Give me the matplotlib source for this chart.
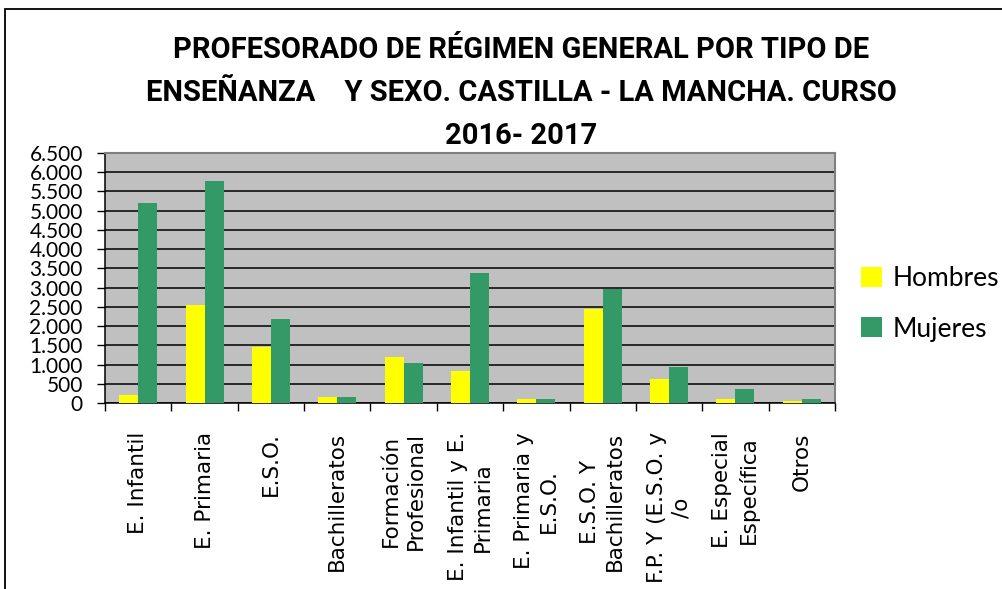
import matplotlib
matplotlib.use("Agg")
import matplotlib.pyplot as plt
import numpy as np
from matplotlib.patches import Rectangle

# data
categories = [
    "E. Infantil",
    "E. Primaria",
    "E.S.O.",
    "Bachilleratos",
    "Formación\nProfesional",
    "E. Infantil y E.\nPrimaria",
    "E. Primaria y\nE.S.O.",
    "E.S.O. Y\nBachilleratos",
    "F.P. Y (E.S.O. y\n/o",
    "E. Especial\nEspecífica",
    "Otros",
]
hombres = [217, 2557, 1465, 165, 1205, 841, 113, 2453, 633, 113, 61]
mujeres = [5209, 5781, 2193, 165, 1049, 3389, 113, 2973, 945, 373, 113]
series_names = ["Hombres", "Mujeres"]
y_ticks = [0, 500, 1000, 1500, 2000, 2500, 3000, 3500, 4000, 4500, 5000, 5500, 6000, 6500]
y_tick_labels = ["0", "500", "1.000", "1.500", "2.000", "2.500", "3.000",
                 "3.500", "4.000", "4.500", "5.000", "5.500", "6.000", "6.500"]
title = ("PROFESORADO DE RÉGIMEN GENERAL POR TIPO DE\n"
         "ENSEÑANZA    Y SEXO. CASTILLA - LA MANCHA. CURSO\n"
         "2016- 2017")

title_font = "Roboto"
label_font = "Lato"

fig = plt.figure(figsize=(10.03, 5.89), dpi=100)

# outer chart frame (only left and top edges are visible in the crop)
fig.patches.append(Rectangle((5 / 1003, -0.2), 1.5, 1.2 - 9 / 589,
                             transform=fig.transFigure, fill=False,
                             edgecolor="black", linewidth=1.3))

ax = fig.add_axes([105 / 1003, 1 - 403 / 589, 730 / 1003, 250 / 589])
ax.set_facecolor("#C0C0C0")

x = np.arange(len(categories))
width = 0.286
ax.bar(x - width / 2, hombres, width, color="#FFFF00", label=series_names[0], zorder=3)
ax.bar(x + width / 2, mujeres, width, color="#339966", label=series_names[1], zorder=3)

ax.set_xlim(-0.5, len(categories) - 0.5)
ax.set_ylim(0, 6500)
ax.set_yticks(y_ticks)
ax.set_yticklabels(y_tick_labels, fontfamily=label_font, fontsize=15)
ax.yaxis.grid(True, color="black", linewidth=1.1, zorder=1)
ax.set_axisbelow(True)

ax.set_xticks(x)
ax.set_xticklabels(categories, rotation=90, fontfamily="DejaVu Sans",
                   fontsize=15.5, multialignment="center", linespacing=1.3)
ax.set_xticks(np.arange(len(categories) + 1) - 0.5, minor=True)
ax.tick_params(axis="x", which="major", length=0, pad=21)
ax.tick_params(axis="x", which="minor", length=6, width=1, color="black", direction="out")
ax.tick_params(axis="y", length=6, width=1, color="black", direction="out", pad=10)

for side in ["top", "right"]:
    ax.spines[side].set_color("#808080")
    ax.spines[side].set_linewidth(1.5)
for side in ["left", "bottom"]:
    ax.spines[side].set_color("black")
    ax.spines[side].set_linewidth(1.1)

fig.text(521 / 1003, 1 - 93 / 589, title, ha="center", va="center",
         fontfamily=title_font, fontweight="bold", fontsize=21, linespacing=1.68)

ax.legend(loc="center left", bbox_to_anchor=((850 - 105) / 730, 0.396),
          frameon=False, prop={"family": label_font, "size": 19},
          handlelength=0.8, handleheight=0.8, handletextpad=0.4,
          labelspacing=0.95, borderaxespad=0)

fig.savefig("out.png", dpi=100)
